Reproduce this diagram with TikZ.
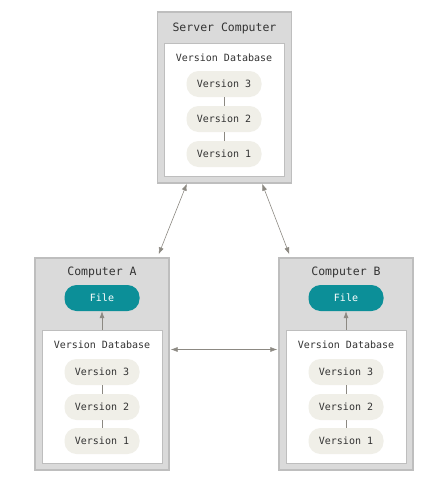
\documentclass[tikz,border=0pt]{standalone}
\usepackage{fontspec}
\setmonofont{DejaVu Sans Mono}
\usetikzlibrary{arrows.meta, positioning, calc}
\definecolor{boxgray}{RGB}{218, 218, 218}
\definecolor{edgegray}{RGB}{190, 190, 190}
\definecolor{pillfill}{RGB}{240, 239, 232}
\definecolor{teal}{RGB}{12, 143, 152}
\definecolor{inkgray}{RGB}{51, 51, 51}
\definecolor{arrowgray}{RGB}{140, 137, 130}

\begin{document}
\begin{tikzpicture}[x=1pt, y=-1pt, font=\ttfamily\fontsize{10}{12}\selectfont, text=inkgray,
        machine/.style={rectangle, draw=edgegray, line width=1.3pt, fill=boxgray, minimum width=134pt, inner sep=0pt},
        database/.style={rectangle, draw=edgegray, line width=1pt, fill=white, minimum width=120pt, minimum height=133pt, inner sep=0pt},
        version/.style={rectangle, rounded corners=12pt, fill=pillfill, minimum width=75pt, minimum height=26pt, inner sep=0pt},
        workfile/.style={version, fill=teal, text=white},
        title/.style={font=\ttfamily\fontsize{11.5}{13}\selectfont},
        link/.style={draw=arrowgray, line width=0.6pt},
        sync/.style={link, {Latex[length=7pt, width=5pt]}-{Latex[length=7pt, width=5pt]}}
    ]
        \useasboundingbox (0,0) rectangle (445,485);

        % server
        \node[machine, minimum height=171pt] (srv) at (224.5,97.5) {};
        \node[title] (srvT) at (224.5,28) {Server Computer};
        \node[database] (dbS) at (224,109.5) {};
        \node (dbST) at (224,58) {Version Database};
        \node[version] (s3) at (224,84)  {Version 3};
        \node[version] (s2) at (224,119) {Version 2};
        \node[version] (s1) at (224,154) {Version 1};
        \draw[link] (s3) -- (s2);
        \draw[link] (s2) -- (s1);

        % computer A
        \node[machine, minimum height=212pt] (compA) at (102,364) {};
        \node[title] (compAT) at (102,272) {Computer A};
        \node[workfile] (fileA) at (102,298) {File};
        \node[database] (dbA) at (102,396.5) {};
        \node (dbAT) at (102,345) {Version Database};
        \node[version] (a3) at (102,372) {Version 3};
        \node[version] (a2) at (102,407) {Version 2};
        \node[version] (a1) at (102,441) {Version 1};
        \draw[link] (a3) -- (a2);
        \draw[link] (a2) -- (a1);
        \draw[link, -{Latex[length=7pt, width=5pt]}] (dbA.north) -- (fileA.south);

        % computer B
        \node[machine, minimum height=212pt] (compB) at (346,364) {};
        \node[title] (compBT) at (346,272) {Computer B};
        \node[workfile] (fileB) at (346,298) {File};
        \node[database] (dbB) at (346,396.5) {};
        \node (dbBT) at (346,345) {Version Database};
        \node[version] (b3) at (346,372) {Version 3};
        \node[version] (b2) at (346,407) {Version 2};
        \node[version] (b1) at (346,441) {Version 1};
        \draw[link] (b3) -- (b2);
        \draw[link] (b2) -- (b1);
        \draw[link, -{Latex[length=7pt, width=5pt]}] (dbB.north) -- (fileB.south);

        % syncing
        \draw[sync] ($(srv.south west)+(30,0)$) -- ($(compA.north east)+(-11,-3)$);
        \draw[sync] ($(srv.south east)+(-30,0)$) -- ($(compB.north west)+(11,-3)$);
        \draw[sync] ($(dbA.north -| compA.east)+(1,20)$) -- ($(dbB.north -| compB.west)+(-1,20)$);
    \end{tikzpicture}
\end{document}
